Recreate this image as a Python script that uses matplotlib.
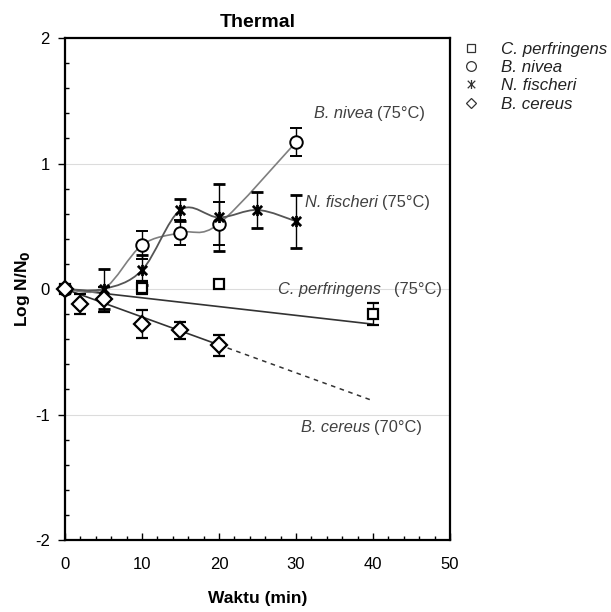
import numpy as np
import matplotlib
matplotlib.use('Agg')
import matplotlib.pyplot as plt
from matplotlib.path import Path
from matplotlib.patches import PathPatch
from matplotlib.lines import Line2D
from matplotlib.ticker import MultipleLocator, FuncFormatter

plt.rcParams['font.family'] = ['Liberation Sans', 'DejaVu Sans']

# data (Log N/N0 vs minutes)
perf_t = [0, 10, 20, 40]
perf_y = [0.0, 0.01, 0.04, -0.20]
perf_err = [0.0, 0.05, 0.0, 0.09]

nivea_t = [0, 10, 15, 20, 30]
nivea_y = [0.0, 0.35, 0.45, 0.52, 1.17]
nivea_err = [0.0, 0.11, 0.10, 0.17, 0.11]
nivea_curve_t = [0, 5, 10, 15, 20, 30]
nivea_curve_y = [0.0, 0.0, 0.35, 0.45, 0.52, 1.17]

fisch_t = [0, 5, 10, 15, 20, 25, 30]
fisch_y = [0.0, 0.0, 0.15, 0.63, 0.57, 0.63, 0.54]
fisch_err = [0.0, 0.16, 0.12, 0.09, 0.27, 0.14, 0.21]

cereus_t = [0, 2, 5, 10, 15, 20]
cereus_y = [0.0, -0.12, -0.08, -0.28, -0.33, -0.45]
cereus_err = [0.0, 0.08, 0.10, 0.11, 0.07, 0.08]

# fitted lines
perf_fit_t = [0, 40]
perf_fit_y = [0.0, -0.28]
cereus_fit_t = [0, 20]
cereus_fit_y = [0.0, -0.445]
cereus_ext_t = [20, 40]
cereus_ext_y = [-0.445, -0.89]


def smooth_path(xs, ys):
    # excel-like smoothed line: catmull-rom bezier through the points
    pts = np.column_stack([xs, ys]).astype(float)
    n = len(pts)
    verts = [pts[0]]
    codes = [Path.MOVETO]
    for i in range(n - 1):
        p0 = pts[i - 1] if i > 0 else pts[i]
        p1 = pts[i]
        p2 = pts[i + 1]
        p3 = pts[i + 2] if i + 2 < n else pts[i + 1]
        c1 = p1 + (p2 - p0) / 6
        c2 = p2 - (p3 - p1) / 6
        verts += [c1, c2, p2]
        codes += [Path.CURVE4] * 3
    return Path(verts, codes)


star = Path([(-1, -1), (1, 1), (-1, 1), (1, -1), (0, -1.2), (0, 1.2)],
            [Path.MOVETO, Path.LINETO, Path.MOVETO, Path.LINETO, Path.MOVETO, Path.LINETO])

fig = plt.figure(figsize=(6.11, 6.12), dpi=100)
ax = fig.add_axes([0.1064, 0.1176, 0.630, 0.8203])

ax.set_xlim(0, 50)
ax.set_ylim(-2, 2)
for yy in [1, 0, -1]:
    ax.axhline(yy, color='#dcdcdc', lw=0.8, zorder=0)

# fit lines
ax.plot(perf_fit_t, perf_fit_y, color='#333333', lw=1.2, zorder=2)
ax.plot(cereus_fit_t, cereus_fit_y, color='#333333', lw=1.2, zorder=2)
ax.plot(cereus_ext_t, cereus_ext_y, color='#333333', lw=1.1, ls=(0, (3, 3)), zorder=2)
ax.add_patch(PathPatch(smooth_path(nivea_curve_t, nivea_curve_y), fill=False,
                       ec='#7f7f7f', lw=1.2, zorder=2))
ax.add_patch(PathPatch(smooth_path(fisch_t, fisch_y), fill=False,
                       ec='#555555', lw=1.3, zorder=2))

eb = dict(ls='none', ecolor='black', elinewidth=1.0, capsize=4.5, capthick=1.0, zorder=3)
sets = [
    (perf_t, perf_y, perf_err, dict(marker='s', ms=7, mfc='white', mew=1.6)),
    (nivea_t, nivea_y, nivea_err, dict(marker='o', ms=9, mfc='white', mew=1.4)),
    (fisch_t, fisch_y, fisch_err, dict(marker=star, ms=8, mfc='none', mew=2.0)),
    (cereus_t, cereus_y, cereus_err, dict(marker='D', ms=8, mfc='white', mew=1.6)),
]
for xs, ys, es, mk in sets:
    c = ax.errorbar(xs, ys, yerr=es, mec='black', **mk, **eb)
    c.lines[0].set_clip_on(False)

# labels on the curves
txt_color = '#404040'
labels = [
    ('B. nivea', '(75°C)', 46.8, 1.40),
    ('N. fischeri', '(75°C)', 47.4, 0.69),
    ('C. perfringens', '  (75°C)', 49.0, 0.0),
    ('B. cereus', '(70°C)', 46.4, -1.10),
]
for sp, temp, xt, yt in labels:
    t = ax.text(xt, yt, temp, ha='right', va='center', fontsize=11.8, color=txt_color)
    ax.annotate(sp + ' ', xy=(0, 0.5), xycoords=t, ha='right', va='center',
                fontsize=11.8, style='italic', color=txt_color)

for s in ax.spines.values():
    s.set_linewidth(1.6)
ax.xaxis.set_major_locator(MultipleLocator(10))
ax.xaxis.set_minor_locator(MultipleLocator(2))
ax.yaxis.set_major_locator(MultipleLocator(1))
ax.yaxis.set_minor_locator(MultipleLocator(0.2))
ax.tick_params(axis='x', which='major', direction='in', length=5, width=1, labelsize=12, pad=12)
ax.tick_params(axis='x', which='minor', direction='in', length=3, width=1)
ax.tick_params(axis='y', which='major', direction='out', length=5, width=1, labelsize=12, pad=6)
ax.tick_params(axis='y', which='minor', direction='in', length=3, width=1)
ax.yaxis.set_major_formatter(FuncFormatter(lambda v, p: f'{v:.0f}'))

ax.set_title('Thermal', fontsize=14, fontweight='bold', pad=8)
ax.set_xlabel('Waktu (min)', fontsize=12.5, fontweight='bold', labelpad=14)
ax.set_ylabel('Log N/N$_\\mathbf{0}$', fontsize=12.5, fontweight='bold', labelpad=2)

handles = [
    Line2D([], [], ls='none', marker='s', ms=6, mfc='white', mec='#333333', mew=0.9),
    Line2D([], [], ls='none', marker='o', ms=7, mfc='white', mec='#333333', mew=0.9),
    Line2D([], [], ls='none', marker=star, ms=6.5, mfc='none', mec='#333333', mew=0.9),
    Line2D([], [], ls='none', marker='D', ms=5.5, mfc='white', mec='#333333', mew=0.9),
]
names = ['C. perfringens', 'B. nivea', 'N. fischeri', 'B. cereus']
leg = fig.legend(handles, names, loc='upper left', bbox_to_anchor=(0.748, 0.946),
                 frameon=False, handlelength=0.6, handletextpad=1.5, labelspacing=0.2,
                 borderpad=0, prop=dict(size=12.2, style='italic'))
for t in leg.get_texts():
    t.set_color('#222222')

fig.savefig('out.png', dpi=100)
